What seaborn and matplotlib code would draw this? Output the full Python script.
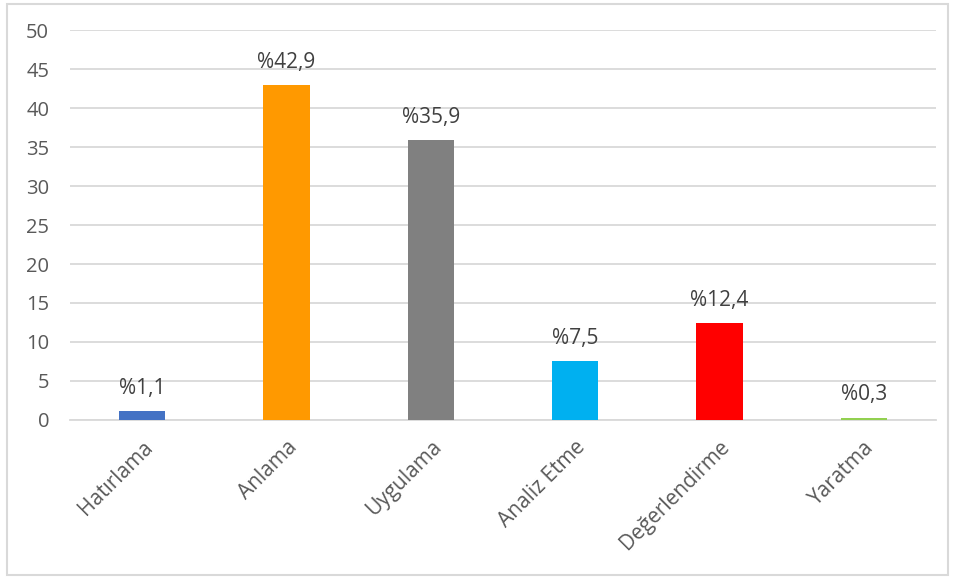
import matplotlib
matplotlib.use("Agg")
import matplotlib.pyplot as plt
import seaborn as sns
import pandas as pd
from matplotlib.patches import Rectangle

categories = ["Hatırlama", "Anlama", "Uygulama", "Analiz Etme", "Değerlendirme", "Yaratma"]
values = [1.1, 42.9, 35.9, 7.5, 12.4, 0.3]
labels = ["%1,1", "%42,9", "%35,9", "%7,5", "%12,4", "%0,3"]
colors = ["#4472C4", "#FF9900", "#808080", "#00B0F0", "#FF0000", "#92D050"]
yticks = [0, 5, 10, 15, 20, 25, 30, 35, 40, 45, 50]

sns.set_theme(style="white")
plt.rcParams['font.family'] = ['Open Sans', 'DejaVu Sans']

df = pd.DataFrame({"cat": categories, "val": values})

fig = plt.figure(figsize=(9.55, 5.78), dpi=100)
ax = fig.add_axes([0.0733, 0.2734, 0.9067, 0.6746])

sns.barplot(data=df, x="cat", y="val", hue="cat", palette=colors, width=0.32,
            legend=False, ax=ax, saturation=1, linewidth=0)
for p in ax.patches:
    p.set_zorder(3)

ax.set_ylim(0, 50)
ax.set_xlim(-0.5, len(categories) - 0.5)
ax.set_yticks(yticks)
ax.set_yticklabels([str(t) for t in yticks])
ax.yaxis.grid(True, color="#D9D9D9", linewidth=1.3)
ax.set_axisbelow(True)
for s in ["top", "right", "left"]:
    ax.spines[s].set_visible(False)
ax.spines["bottom"].set_color("#D9D9D9")
ax.spines["bottom"].set_linewidth(1.3)
ax.spines["bottom"].set_zorder(1)
ax.set_xlabel("")
ax.set_ylabel("")
ax.tick_params(axis="both", length=0, colors="#595959", labelsize=14.5)
ax.tick_params(axis="y", pad=15)
ax.tick_params(axis="x", pad=12)
for lbl in ax.get_xticklabels():
    lbl.set_rotation(45)
    lbl.set_ha("right")
    lbl.set_rotation_mode("anchor")
    lbl.set_fontsize(15)

for i, (v, t) in enumerate(zip(values, labels)):
    ax.annotate(t, (i, v), xytext=(0, 9), textcoords="offset points",
                ha="center", va="bottom", fontsize=15, color="#404040")

fig.patches.append(Rectangle((0.007, 0.005), 0.986, 0.988, transform=fig.transFigure,
                             fill=False, edgecolor="#D9D9D9", linewidth=1.5))

fig.savefig("out.png", dpi=100)
